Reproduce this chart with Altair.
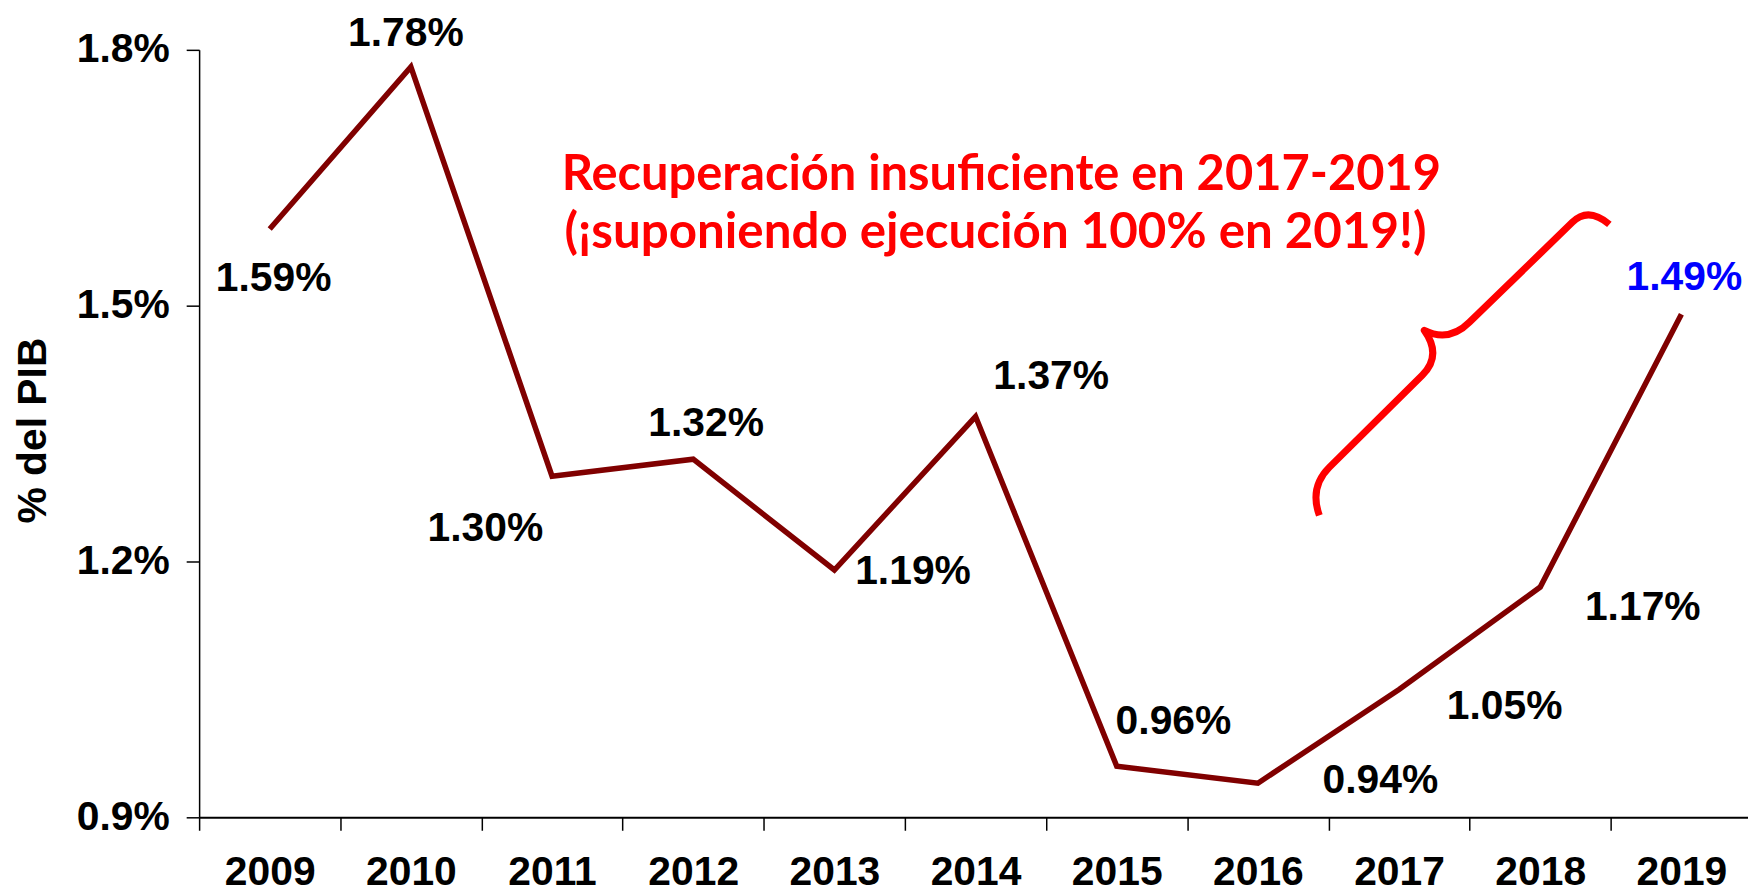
import altair as alt
import pandas as pd

# ---- data ----
years = ["2009", "2010", "2011", "2012", "2013", "2014", "2015", "2016", "2017", "2018", "2019"]
values = [1.59, 1.78, 1.30, 1.32, 1.19, 1.37, 0.96, 0.94, 1.05, 1.17, 1.49]
labels = ["1.59%", "1.78%", "1.30%", "1.32%", "1.19%", "1.37%", "0.96%", "0.94%", "1.05%", "1.17%", "1.49%"]
y_ticks = [0.9, 1.2, 1.5, 1.8]
annotation_lines = ["Recuperación insuficiente en 2017-2019",
                    "(¡suponiendo ejecución 100% en 2019!)"]
y_title = "% del PIB"

df = pd.DataFrame({"year": years, "value": values, "label": labels})

# label placement (pixel offsets of each value label from its point)
label_offsets = {
    "2009": (4, 50), "2010": (-5, -33), "2011": (-67, 53), "2012": (13, -35),
    "2013": (79, 2), "2014": (76, -40), "2015": (57, -44), "2016": (123, -2),
    "2017": (106, 18), "2018": (103, 21), "2019": (3, -36),
}
label_colors = {"2019": "#0000FF"}

FONT = "Liberation Sans"
W, H = 1556, 771

x_enc = alt.X(
    "year:O",
    bandPosition=0.5,
    scale=alt.Scale(type="band", paddingInner=0, paddingOuter=0, range=[0, 1560]),
    axis=alt.Axis(
        title=None, labelAngle=0, tickBand="extent", tickSize=13, tickWidth=1.5,
        tickColor="black", domainColor="black", domainWidth=2,
        labelFont=FONT, labelFontSize=41, labelFontWeight="bold", labelColor="black",
        labelPadding=22, labelFlush=False, labelOverlap=False,
    ),
)
y_enc = alt.Y(
    "value:Q",
    scale=alt.Scale(domain=[0.9, 1.8], nice=False, zero=False),
    axis=alt.Axis(
        values=y_ticks, labelExpr="format(datum.value, '.1f') + '%'",
        title=y_title, titleFont=FONT, titleFontSize=41, titleFontWeight="bold",
        titleColor="black", titleX=-145, titleY=382, titleAngle=-90, titleBaseline="bottom",
        tickSize=13, tickWidth=1.5, tickColor="black", domainColor="black", domainWidth=1.5,
        labelFont=FONT, labelFontSize=41, labelFontWeight="bold", labelColor="black",
        labelPadding=17, labelFlush=False, labelOverlap=False, grid=False,
    ),
)

base = alt.Chart(df)

line = base.mark_line(color="#800000", strokeWidth=5.5, strokeJoin="miter").encode(x=x_enc, y=y_enc)

text_layers = []
for yr in years:
    dx, dy = label_offsets[yr]
    text_layers.append(
        base.transform_filter(alt.datum.year == yr)
        .mark_text(font=FONT, fontSize=41, fontWeight="bold", dx=dx, dy=dy,
                   align="center", baseline="middle",
                   color=label_colors.get(yr, "black"))
        .encode(x=x_enc, y=y_enc, text="label:N")
    )

one = alt.Data(values=[{"a": 1}])
ann1 = alt.Chart(one).mark_text(
    text=annotation_lines[0], font="Lato", fontSize=49, fontWeight="bold",
    color="#FF0000", align="center", baseline="alphabetic",
).encode(x=alt.value(806), y=alt.value(141))
ann2 = alt.Chart(one).mark_text(
    text=annotation_lines[1], font="Lato", fontSize=49.5, fontWeight="bold",
    color="#FF0000", align="center", baseline="alphabetic",
).encode(x=alt.value(800), y=alt.value(199))

brace_path = (
    "M -0.916 0.935 Q -0.981 0.755 -0.852 0.626 "
    "L -0.252 0.032 Q -0.123 -0.097 -0.239 -0.258 "
    "Q -0.079 -0.179 0.052 -0.310 "
    "L 0.716 -0.955 Q 0.819 -1.058 0.955 -0.942"
)
brace = alt.Chart(one).mark_point(
    shape=brace_path, filled=False, stroke="#FF0000", strokeWidth=7,
    opacity=1, strokeCap="butt", strokeJoin="round",
).encode(x=alt.value(1268), y=alt.value(322), size=alt.value(97000))

chart = alt.layer(line, *text_layers, ann1, ann2, brace).properties(
    width=W, height=H,
    autosize=alt.AutoSizeParams(type="none"),
    padding={"left": 192, "top": 40, "right": 0, "bottom": 76},
).configure_view(stroke=None).configure_axis(grid=False)

chart.save("out.html", embed_options={"renderer": "svg", "actions": False})
